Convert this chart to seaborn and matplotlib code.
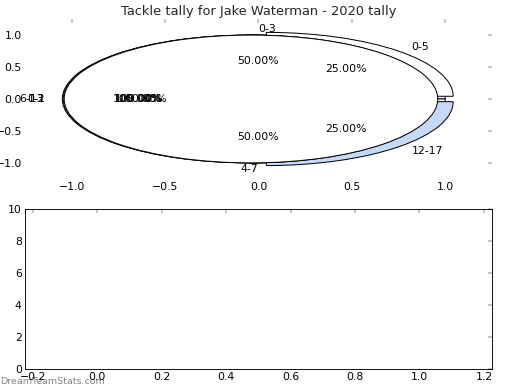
import matplotlib
matplotlib.use("Agg")
import matplotlib.pyplot as plt
import seaborn as sns

# --- DANE ---
title = "Tackle tally for Jake Waterman - 2020 tally"

# pie drawn first: two halves
half_labels = ["0-3", "4-7"]
half_values = [1, 1]

# pie with exploded quarters
quarter_labels = ["0-5", "", "12-17"]
quarter_values = [1, 2, 1]
quarter_explode = [0.06, 0.0, 0.06]
quarter_colors = ["white", "white", "#c6daf8"]

# single-wedge pies (100%)
single_labels = ["6-13", "0-1", "1-2"]
single_explode = [0.05, 0.045, 0.04]

top_xticks = [-1.0, -0.5, 0.0, 0.5, 1.0]
top_yticks = [-1.0, -0.5, 0.0, 0.5, 1.0]
bottom_xticks = [-0.2, 0.0, 0.2, 0.4, 0.6, 0.8, 1.0, 1.2]
bottom_yticks = [0, 2, 4, 6, 8, 10]

sns.set_theme(style="white", rc={
    "xtick.direction": "in", "ytick.direction": "in",
    "xtick.top": True, "ytick.right": True,
    "xtick.major.size": 4, "ytick.major.size": 4,
    "xtick.major.width": 0.5, "ytick.major.width": 0.5,
    "xtick.color": "black", "ytick.color": "black",
    "axes.edgecolor": "black", "axes.linewidth": 1.0,
    "font.size": 12, "xtick.labelsize": 12, "ytick.labelsize": 12,
    "axes.titlesize": 14.4,
})
plt.rcParams["font.family"] = ["DejaVu Sans"]

fig, (ax1, ax2) = plt.subplots(2, 1, figsize=(8, 6), dpi=65)
fig.subplots_adjust(left=0.048, right=0.946, top=0.951, bottom=0.054, hspace=0.19)

wp = {"edgecolor": "black", "linewidth": 1.1}
tp = {"fontsize": 12, "color": "black"}

_, half_texts, _ = ax1.pie(half_values, labels=half_labels, colors=["white", "white"],
                           autopct="%.2f%%", wedgeprops=wp, textprops=tp)
# etykiety na górze/dole: wyrównanie jak w starym matplotlib
half_texts[0].set_ha("left")
half_texts[1].set_ha("right")

ax1.pie(quarter_values, labels=quarter_labels, colors=quarter_colors,
        explode=quarter_explode, autopct="%.2f%%", wedgeprops=wp, textprops=tp)
for lab, e in zip(single_labels, single_explode):
    ax1.pie([1], labels=[lab], colors=["white"], explode=[e],
            autopct="%.2f%%", wedgeprops=wp, textprops=tp)

ax1.set_aspect("auto")
ax1.set_frame_on(False)
ax1.set_xlim(-1.25, 1.25)
ax1.set_ylim(-1.25, 1.25)
ax1.set_xticks(top_xticks)
ax1.set_yticks(top_yticks)
ax1.tick_params(labelsize=12)
ax1.set_title(title, fontsize=14.4, pad=4)

ax2.set_xlim(-0.225, 1.225)
ax2.set_ylim(0, 10)
ax2.set_xticks(bottom_xticks)
ax2.set_yticks(bottom_yticks)
ax2.tick_params(labelsize=12)

fig.text(0.0, 0.01, "DreamTeamStats.com", fontsize=10.5, color="#858585",
         ha="left", va="bottom", zorder=-1)

fig.savefig("out.png", dpi=65)
